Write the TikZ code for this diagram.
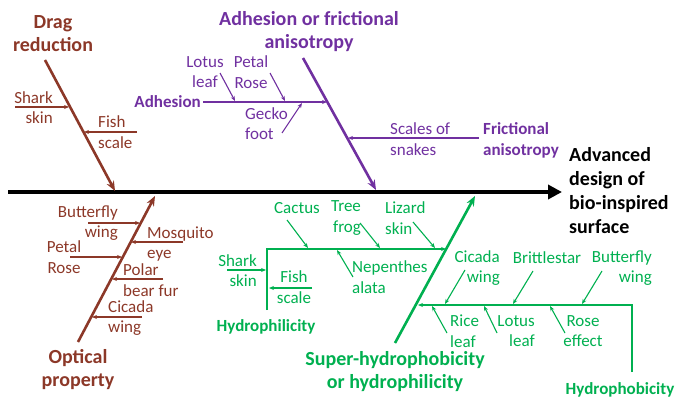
\documentclass[tikz,border=0pt]{standalone}
\usepackage{fontspec}
\setmainfont{Carlito}
\usetikzlibrary{arrows.meta}
\definecolor{brn}{RGB}{140,56,40}
\definecolor{prp}{RGB}{112,48,160}
\definecolor{grn}{RGB}{0,176,80}
\begin{document}
\begin{tikzpicture}[x=1pt,y=-1pt,
 lbl/.style={font=\fontsize{17}{20.5}\selectfont, inner sep=0pt, align=center},
 sublbl/.style={font=\fontsize{17}{21}\selectfont\bfseries, inner sep=0pt, align=left},
 ttl/.style={font=\fontsize{20}{23}\selectfont\bfseries, inner sep=0pt, align=center},
 twig/.style={line width=1.1pt, -{Stealth[length=5pt,width=4pt]}},
 bone/.style={line width=2.6pt, -{Stealth[length=10pt,width=8pt]}},
]
\useasboundingbox (0,0) rectangle (679,398);

% spine
\coordinate (sp0) at (8,192);
\coordinate (sp1) at (562,192);
\draw[line width=4.5pt, -{Triangle[length=14pt,width=14pt]}] (sp0) -- (sp1);
\node[font=\fontsize{20}{24}\selectfont\bfseries, inner sep=0pt, align=left, anchor=west] (goal) at (569,191) {Advanced\\design of\\bio-inspired\\surface};

% drag reduction
\node[ttl,text=brn] (drag) at (53,34) {Drag\\reduction};
\coordinate (d0) at (45,60); \coordinate (d1) at (115,191);
\draw[bone,brn] (d0) -- (d1);
\node[lbl,text=brn,align=right,anchor=east] (dshark) at (53,107.5) {Shark\\skin};
\coordinate (ds0) at (15,107); \coordinate (ds1) at (69,107);
\draw[twig,brn] (ds0) -- (ds1);
\node[lbl,text=brn,align=left,anchor=west] (dfish) at (98,132) {Fish\\scale};
\coordinate (df0) at (137,132); \coordinate (df1) at (84,132);
\draw[twig,brn] (df0) -- (df1);

% adhesion / friction
\node[ttl,text=prp] (adh) at (309,32) {Adhesion or frictional\\anisotropy};
\coordinate (p0) at (303,58); \coordinate (p1) at (376,190);
\draw[bone,prp] (p0) -- (p1);
\node[sublbl,text=prp,anchor=east] (adhl) at (201,102) {Adhesion};
\coordinate (pa0) at (203,102); \coordinate (pa1) at (327,102);
\draw[twig,prp] (pa0) -- (pa1);
\node[lbl,text=prp] (plotus) at (205,72) {Lotus\\leaf};
\coordinate (pl0) at (220,73); \coordinate (pl1) at (235,101);
\draw[twig,prp] (pl0) -- (pl1);
\node[lbl,text=prp] (ppetal) at (251,72) {Petal\\Rose};
\coordinate (pp0) at (270,73); \coordinate (pp1) at (285,101);
\draw[twig,prp] (pp0) -- (pp1);
\node[lbl,text=prp,align=left,anchor=west] (pgecko) at (245,123.5) {Gecko\\foot};
\coordinate (pg0) at (282,133); \coordinate (pg1) at (302,103);
\draw[twig,prp] (pg0) -- (pg1);
\node[lbl,text=prp,align=left,anchor=west] (psnake) at (390,139) {Scales of\\snakes};
\coordinate (ps0) at (479,138); \coordinate (ps1) at (348,138);
\draw[twig,prp] (ps0) -- (ps1);
\node[sublbl,text=prp,anchor=west] (pfric) at (483,140) {Frictional\\anisotropy};

% optical property
\node[ttl,text=brn] (opt) at (78,370) {Optical\\property};
\coordinate (o0) at (78,342); \coordinate (o1) at (155,196);
\draw[bone,brn] (o0) -- (o1);
\node[lbl,text=brn,align=right,anchor=east] (obut) at (118,223) {Butterfly\\wing};
\coordinate (ob0) at (88,223); \coordinate (ob1) at (140,223);
\draw[twig,brn] (ob0) -- (ob1);
\node[lbl,text=brn,align=left,anchor=west] (omos) at (147,244) {Mosquito\\eye};
\coordinate (om0) at (183,242); \coordinate (om1) at (131,242);
\draw[twig,brn] (om0) -- (om1);
\node[lbl,text=brn] (opetal) at (64,257) {Petal\\Rose};
\coordinate (op0) at (70,257); \coordinate (op1) at (122,257);
\draw[twig,brn] (op0) -- (op1);
\node[lbl,text=brn,align=left,anchor=west] (opolar) at (123,280) {Polar\\bear fur};
\coordinate (oq0) at (163,279); \coordinate (oq1) at (112,279);
\draw[twig,brn] (oq0) -- (oq1);
\node[lbl,text=brn,align=left,anchor=west] (ocic) at (108,318) {Cicada\\wing};
\coordinate (oc0) at (142,317); \coordinate (oc1) at (92,317);
\draw[twig,brn] (oc0) -- (oc1);

% super-hydrophobicity / hydrophilicity
\node[ttl,text=grn] (sh) at (395,372) {Super-hydrophobicity\\or hydrophilicity};
\coordinate (g0) at (395,343); \coordinate (g1) at (475,196);
\draw[bone,grn] (g0) -- (g1);

% hydrophilicity branch
\node[sublbl,text=grn] (hphil) at (266,327) {Hydrophilicity};
\coordinate (hl0) at (267,310); \coordinate (hl1) at (267,249); \coordinate (hl2) at (446,249);
\draw[twig,grn] (hl0) -- (hl1) -- (hl2);
\node[lbl,text=grn] (gcac) at (297,208) {Cactus};
\coordinate (gc0) at (287,220); \coordinate (gc1) at (308,248);
\draw[twig,grn] (gc0) -- (gc1);
\node[lbl,text=grn,align=right] (gtree) at (346,218) {Tree\\frog};
\coordinate (gt0) at (360,223); \coordinate (gt1) at (380,248);
\draw[twig,grn] (gt0) -- (gt1);
\node[lbl,text=grn,align=left,anchor=west] (gliz) at (385,218) {Lizard\\skin};
\coordinate (gz0) at (413,222); \coordinate (gz1) at (435,248);
\draw[twig,grn] (gz0) -- (gz1);
\node[lbl,text=grn,align=left,anchor=west] (gnep) at (352,277) {Nepenthes\\alata};
\coordinate (gn0) at (353,277); \coordinate (gn1) at (337,250);
\draw[twig,grn] (gn0) -- (gn1);
\node[lbl,text=grn,align=right,anchor=east] (gshark) at (257,270.5) {Shark\\skin};
\coordinate (gs0) at (227,270); \coordinate (gs1) at (266,270);
\draw[twig,grn] (gs0) -- (gs1);
\node[lbl,text=grn] (gfish) at (294,287) {Fish\\scale};
\coordinate (gf0) at (312,288); \coordinate (gf1) at (269,288);
\draw[twig,grn] (gf0) -- (gf1);

% hydrophobicity branch
\node[sublbl,text=grn] (hphob) at (620,390) {Hydrophobicity};
\coordinate (hb0) at (632,372); \coordinate (hb1) at (632,305); \coordinate (hb2) at (418,305);
\draw[twig,grn] (hb0) -- (hb1) -- (hb2);
\node[lbl,text=grn,align=right,anchor=east] (gcic) at (500,268) {Cicada\\wing};
\coordinate (gi0) at (465,270); \coordinate (gi1) at (445,304);
\draw[twig,grn] (gi0) -- (gi1);
\node[lbl,text=grn] (gbri) at (547,258) {Brittlestar};
\coordinate (gb0) at (533,271); \coordinate (gb1) at (513,304);
\draw[twig,grn] (gb0) -- (gb1);
\node[lbl,text=grn,align=right,anchor=east] (gbut) at (652,268) {Butterfly\\wing};
\coordinate (gu0) at (602,271); \coordinate (gu1) at (582,304);
\draw[twig,grn] (gu0) -- (gu1);
\node[lbl,text=grn,align=left,anchor=west] (grice) at (450,331) {Rice\\leaf};
\coordinate (gr0) at (447,333); \coordinate (gr1) at (432,306);
\draw[twig,grn] (gr0) -- (gr1);
\node[lbl,text=grn,align=right,anchor=east] (glot) at (535,331) {Lotus\\leaf};
\coordinate (gl0) at (497,333); \coordinate (gl1) at (484,306);
\draw[twig,grn] (gl0) -- (gl1);
\node[lbl,text=grn] (grose) at (583,331) {Rose\\effect};
\coordinate (ge0) at (565,333); \coordinate (ge1) at (550,306);
\draw[twig,grn] (ge0) -- (ge1);
\end{tikzpicture}
\end{document}
